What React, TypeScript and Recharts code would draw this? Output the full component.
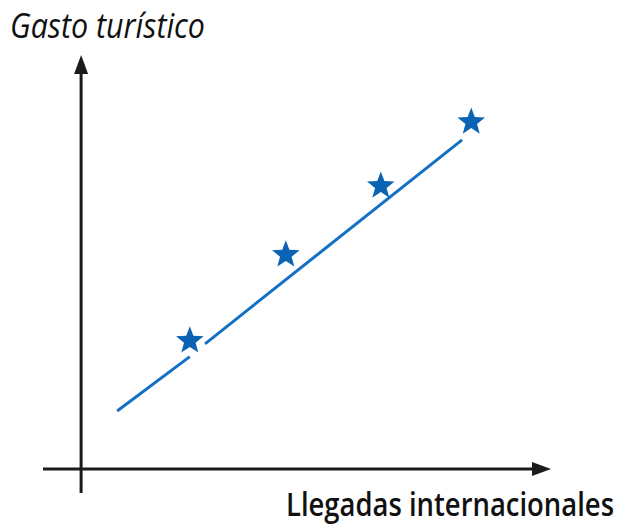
import { ComposedChart, Line, Scatter, XAxis, YAxis, ReferenceLine } from "recharts";

// Points (arbitrary units, origin at the axes' crossing)
const arrivals = [2.14, 4.03, 5.9, 7.68];
const spending = [3.23, 5.38, 7.1, 8.7];
// trend line, broken where it passes behind the first star (null = gap)
const trendX = [0.71, 2.14, 2.14, 2.44, 7.5];
const trendY: (number | null)[] = [1.45, 2.81, null, 3.13, 8.23];

const yTitle = "Gasto turístico";
const xTitle = "Llegadas internacionales";

const W = 623;
const H = 528;
const BLUE = "#0b63b3";
const INK = "#1b1b1b";

const stars = arrivals.map((x, i) => ({ x, y: spending[i] }));
const trend = trendX.map((x, i) => ({ x, trend: trendY[i] }));

function starPath(cx: number, cy: number, r: number) {
  const pts: string[] = [];
  for (let i = 0; i < 10; i++) {
    const rad = i % 2 === 0 ? r : r * 0.42;
    const a = -Math.PI / 2 + (i * Math.PI) / 5;
    pts.push(`${(cx + rad * Math.cos(a)).toFixed(2)},${(cy + rad * Math.sin(a)).toFixed(2)}`);
  }
  return `M${pts.join("L")}Z`;
}

const Star = (p: any) => {
  const { cx, cy } = p;
  if (cx == null || cy == null) return null;
  return <path d={starPath(cx, cy + 1, 14.5)} fill={BLUE} />;
};

// axis line with arrowhead at the (x2, y2) end
const Arrow = (p: any) => {
  const { x1, y1, x2, y2 } = p;
  if ([x1, y1, x2, y2].some((v) => v == null)) return null;
  const horizontal = Math.abs(y1 - y2) < 1;
  const len = 19;
  const half = 7;
  const head = horizontal
    ? `M${x2},${y2} L${x2 - len},${y2 - half} L${x2 - len},${y2 + half} Z`
    : `M${x2},${y2} L${x2 - half},${y2 + len} L${x2 + half},${y2 + len} Z`;
  const ex = horizontal ? x2 - len + 2 : x2;
  const ey = horizontal ? y2 : y2 + len - 2;
  return (
    <g>
      <line x1={x1} y1={y1} x2={ex} y2={ey} stroke={INK} strokeWidth={3} />
      <path d={head} fill={INK} />
    </g>
  );
};

export default function App() {
  return (
    <div style={{ position: "absolute", left: 0, top: 0, width: W, height: H, background: "#fff" }}>
      <ComposedChart width={W} height={H} margin={{ top: 55, right: 72, left: 43, bottom: 35 }}>
        <XAxis type="number" dataKey="x" domain={[-0.75, 9.25]} allowDataOverflow hide />
        <YAxis type="number" domain={[-0.6, 10.35]} allowDataOverflow hide />
        <ReferenceLine
          segment={[{ x: -0.75, y: 0 }, { x: 9.25, y: 0 }]}
          shape={Arrow}
          ifOverflow="visible"
        />
        <ReferenceLine
          segment={[{ x: 0, y: -0.6 }, { x: 0, y: 10.35 }]}
          shape={Arrow}
          ifOverflow="visible"
        />
        <Line
          data={trend}
          dataKey="trend"
          type="linear"
          stroke="#1470c4"
          strokeWidth={3}
          dot={false}
          activeDot={false}
          connectNulls={false}
          isAnimationActive={false}
        />
        <Scatter data={stars} dataKey="y" shape={Star} isAnimationActive={false} />
      </ComposedChart>
      <svg
        width={W}
        height={H}
        style={{ position: "absolute", left: 0, top: 0, pointerEvents: "none" }}
      >
        <text
          x={10}
          y={38}
          fontFamily="'Open Sans', sans-serif"
          fontStyle="italic"
          fontWeight={500}
          fontSize={34}
          fill="#111"
          textLength={195}
          lengthAdjust="spacingAndGlyphs"
        >
          {yTitle}
        </text>
        <text
          x={286}
          y={516}
          fontFamily="'Open Sans', sans-serif"
          fontWeight={600}
          fontSize={33}
          fill="#111"
          textLength={328}
          lengthAdjust="spacingAndGlyphs"
        >
          {xTitle}
        </text>
      </svg>
    </div>
  );
}
